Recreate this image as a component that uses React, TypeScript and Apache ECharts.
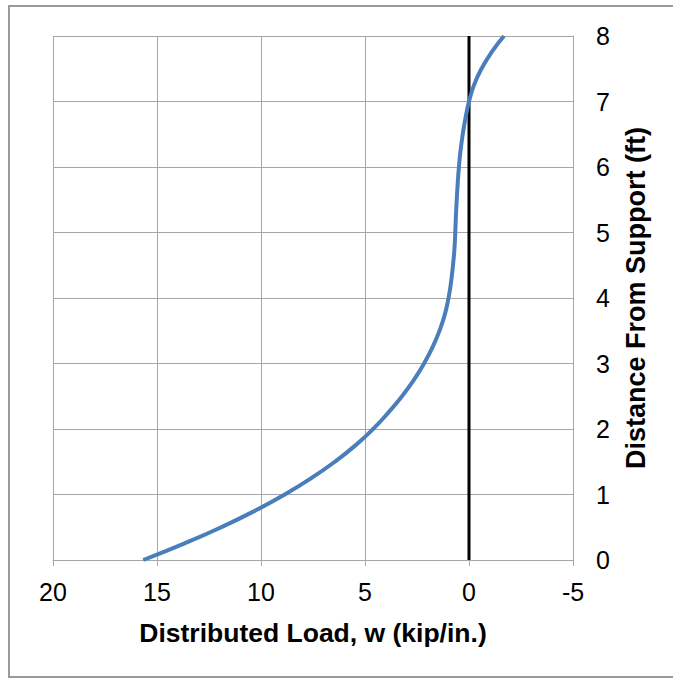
import React, { useEffect, useRef } from "react";
import * as echarts from "echarts";

// Distance from support (ft) and distributed load w (kip/in.)
const distanceFt = [0, 0.25, 0.5, 0.75, 1.0, 1.25, 1.5, 1.75, 2.0, 2.25, 2.5, 2.75, 3.0, 3.25, 3.5, 3.75, 4.0, 4.25, 4.5, 4.75, 5.0, 5.25, 5.5, 5.75, 6.0, 6.25, 6.5, 6.75, 7.0, 7.25, 7.5, 7.75, 8.0];
const loadKipPerIn = [15.66, 13.7, 11.91, 10.3, 8.86, 7.58, 6.45, 5.46, 4.61, 3.88, 3.22, 2.65, 2.16, 1.75, 1.42, 1.16, 0.985, 0.86, 0.77, 0.7, 0.66, 0.63, 0.59, 0.543, 0.485, 0.408, 0.3, 0.168, 0.0, -0.24, -0.6, -1.08, -1.68];
const zeroLineX = [0, 0];
const zeroLineY = [0, 8];

const xAxisTitle = "Distributed Load, w (kip/in.)";
const yAxisTitle = "Distance From Support (ft)";

export default function App() {
  const ref = useRef<HTMLDivElement>(null);
  useEffect(() => {
    if (!ref.current) return;
    const chart = echarts.init(ref.current, null, { renderer: "svg" });
    const font = "'Liberation Sans', Arial, sans-serif";
    const grey = "#a6a6a6";
    chart.setOption({
      animation: false,
      backgroundColor: "#ffffff",
      textStyle: { fontFamily: font },
      graphic: [
        {
          type: "rect",
          shape: { x: 9, y: 6, width: 700, height: 671 },
          style: { fill: "none", stroke: "#9a9a9a", lineWidth: 2 },
          silent: true,
        },
      ],
      grid: { left: 53, top: 36, right: 100, bottom: 119, show: false },
      xAxis: {
        type: "value",
        min: -5,
        max: 20,
        interval: 5,
        inverse: true,
        name: xAxisTitle,
        nameLocation: "middle",
        nameGap: 59,
        nameTextStyle: { fontSize: 26.5, fontWeight: "bold", color: "#000", fontFamily: font },
        axisLine: { show: true, onZero: false, lineStyle: { color: grey, width: 1 } },
        axisTick: { show: true, length: 6, lineStyle: { color: grey } },
        axisLabel: { fontSize: 25, color: "#000", margin: 19, fontFamily: font },
        splitLine: { show: true, lineStyle: { color: grey, width: 1 } },
      },
      yAxis: {
        type: "value",
        position: "right",
        min: 0,
        max: 8,
        interval: 1,
        name: yAxisTitle,
        nameLocation: "middle",
        nameRotate: 90,
        nameGap: 49,
        nameTextStyle: { fontSize: 27, fontWeight: "bold", color: "#000", fontFamily: font },
        axisLine: { show: true, onZero: false, lineStyle: { color: grey, width: 1 } },
        axisTick: { show: false },
        axisLabel: { fontSize: 25, color: "#000", margin: 23, fontFamily: font },
        splitLine: { show: true, lineStyle: { color: grey, width: 1 } },
      },
      series: [
        {
          type: "line",
          data: zeroLineX.map((x, i) => [x, zeroLineY[i]]),
          showSymbol: false,
          symbol: "none",
          lineStyle: { color: "#000000", width: 3 },
          z: 3,
        },
        {
          type: "line",
          data: loadKipPerIn.map((w, i) => [w, distanceFt[i]]),
          smooth: 0.5,
          showSymbol: false,
          symbol: "none",
          lineStyle: { color: "#4a7ebb", width: 4 },
          z: 4,
        },
      ],
    });
    return () => chart.dispose();
  }, []);
  return (
    <div
      ref={ref}
      style={{ position: "absolute", left: 0, top: 0, width: 673, height: 679 }}
    />
  );
}
